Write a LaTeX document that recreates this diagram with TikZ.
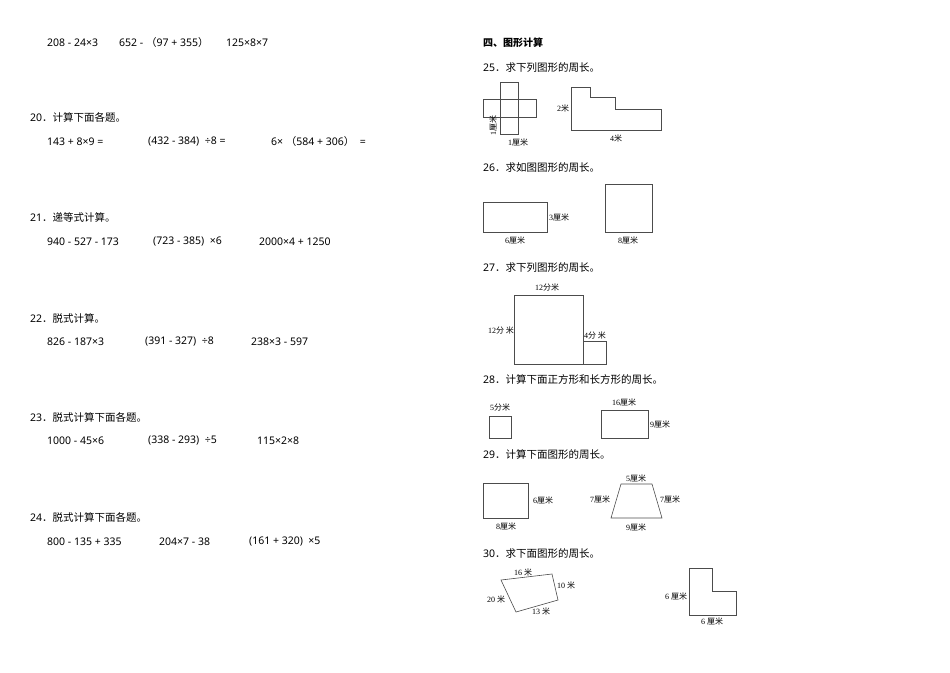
\documentclass[tikz,border=0pt]{standalone}
\usepackage{fontspec}
\setmainfont{Noto Sans}
\newfontfamily\cjk{Noto Sans CJK SC}
\newfontfamily\serifd{Liberation Serif}
\newcommand{\zh}[1]{{\cjk #1}}
\begin{document}
\begin{tikzpicture}[x=1pt,y=-1pt]
        \tikzset{line/.style={anchor=west, inner sep=0pt, font=\fontsize{10.5}{12}\selectfont},
                 lab/.style={inner sep=0pt, font=\serifd\fontsize{8}{9}\selectfont},
                 outline/.style={draw=black!70, line width=0.6pt}}
        \useasboundingbox (0,0) rectangle (950,672);
        % left column
        \node[line] (a1) at (47,43) {208 - 24×3};
        \node[line] (a2) at (119,43) {652 - \zh{（}97 + 355\zh{）}};
        \node[line] (a3) at (226,43) {125×8×7};
        \node[line] (q20) at (30,117) {20\zh{．计算下面各题。}};
        \node[line] (b1) at (47,142) {143 + 8×9 =};
        \node[line] (b2) at (148,142) {(432 - 384) \ ÷8 =};
        \node[line] (b3) at (271,142) {6× \zh{（}584 + 306\zh{）} \ =};
        \node[line] (q21) at (30,217) {21\zh{．递等式计算。}};
        \node[line] (c1) at (47,242) {940 - 527 - 173};
        \node[line] (c2) at (153,242) {(723 - 385) \ ×6};
        \node[line] (c3) at (259,242) {2000×4 + 1250};
        \node[line] (q22) at (30,318) {22\zh{．脱式计算。}};
        \node[line] (d1) at (47,342) {826 - 187×3};
        \node[line] (d2) at (145,342) {(391 - 327) \ ÷8};
        \node[line] (d3) at (251,342) {238×3 - 597};
        \node[line] (q23) at (30,417) {23\zh{．脱式计算下面各题。}};
        \node[line] (e1) at (47,441) {1000 - 45×6};
        \node[line] (e2) at (148,441) {(338 - 293) \ ÷5};
        \node[line] (e3) at (257,441) {115×2×8};
        \node[line] (q24) at (30,517) {24\zh{．脱式计算下面各题。}};
        \node[line] (f1) at (47,542) {800 - 135 + 335};
        \node[line] (f2) at (159,542) {204×7 - 38};
        \node[line] (f3) at (249,542) {(161 + 320) \ ×5};
        % right column
        \node[line, font=\cjk\bfseries\fontsize{10}{11}\selectfont] (sec) at (483,43) {四、图形计算};
        \node[line] (q25) at (483,68) {25\zh{．求下列图形的周长。}};
        \draw[outline] (500,82) rectangle (518,134);
        \draw[outline] (483,99) rectangle (536,117);
        \node[lab, rotate=90] (l25a) at (493,125) {1\zh{厘米}};
        \node[lab] (l25b) at (518,142) {1\zh{厘米}};
        \draw[outline] (571,87) -- (590,87) -- (590,97) -- (615,97) -- (615,109)
              -- (661,109) -- (661,130) -- (571,130) -- cycle;
        \node[lab] (l25c) at (563,108) {2\zh{米}};
        \node[lab] (l25d) at (616,138) {4\zh{米}};
        \node[line] (q26) at (483,168) {26\zh{．求如图图形的周长。}};
        \draw[outline] (483,202) rectangle (547,232);
        \node[lab] (l26a) at (559,217) {3\zh{厘米}};
        \node[lab] (l26b) at (515,240) {6\zh{厘米}};
        \draw[outline] (605,184) rectangle (652,232);
        \node[lab] (l26c) at (628,240) {8\zh{厘米}};
        \node[line] (q27) at (483,268) {27\zh{．求下列图形的周长。}};
        \draw[outline] (514,295) rectangle (583,364);
        \draw[outline] (583,341) rectangle (606,364);
        \node[lab] (l27a) at (547,287) {12\zh{分米}};
        \node[lab] (l27b) at (501,330) {12\zh{分 米}};
        \node[lab] (l27c) at (595,335) {4\zh{分 米}};
        \node[line] (q28) at (483,380) {28\zh{．计算下面正方形和长方形的周长。}};
        \draw[outline] (489,416) rectangle (511,438);
        \node[lab] (l28a) at (500,407) {5\zh{分米}};
        \draw[outline] (601,410) rectangle (648,438);
        \node[lab] (l28b) at (624,402) {16\zh{厘米}};
        \node[lab] (l28c) at (660,424) {9\zh{厘米}};
        \node[line] (q29) at (483,455) {29\zh{．计算下面图形的周长。}};
        \draw[outline] (483,483) rectangle (528,518);
        \node[lab] (l29a) at (543,500) {6\zh{厘米}};
        \node[lab] (l29b) at (506,526) {8\zh{厘米}};
        \draw[outline] (611,518) -- (662,518) -- (652,484) -- (621,484) -- cycle;
        \node[lab] (l29c) at (636,478) {5\zh{厘米}};
        \node[lab] (l29d) at (600,499) {7\zh{厘米}};
        \node[lab] (l29e) at (670,499) {7\zh{厘米}};
        \node[lab] (l29f) at (636,527) {9\zh{厘米}};
        \node[line] (q30) at (483,554) {30\zh{．求下面图形的周长。}};
        \draw[outline] (501,580) -- (552,574) -- (558,600) -- (516,612) -- cycle;
        \node[lab] (l30a) at (523,572) {16 \zh{米}};
        \node[lab] (l30b) at (566,585) {10 \zh{米}};
        \node[lab] (l30c) at (496,599) {20 \zh{米}};
        \node[lab] (l30d) at (541,611) {13 \zh{米}};
        \draw[outline] (689,568) -- (712,568) -- (712,591) -- (736,591) -- (736,615)
              -- (689,615) -- cycle;
        \node[lab] (l30e) at (676,596) {6 \zh{厘米}};
        \node[lab] (l30f) at (712,621) {6 \zh{厘米}};
\end{tikzpicture}
\end{document}
